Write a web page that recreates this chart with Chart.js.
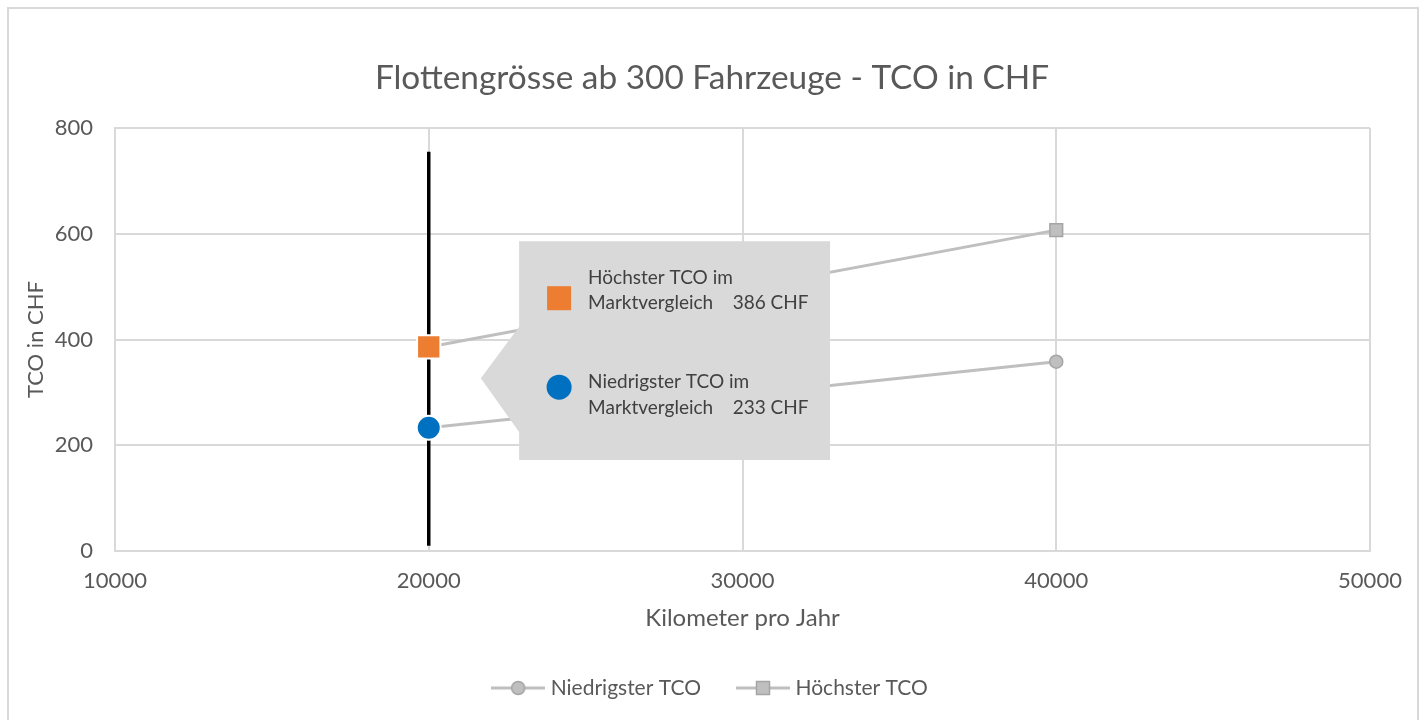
<!DOCTYPE html>
<html lang="de">
<head>
<meta charset="utf-8">
<title>Flottengrösse ab 300 Fahrzeuge - TCO in CHF</title>
<script src="https://cdn.jsdelivr.net/npm/chart.js@4/dist/chart.umd.min.js"></script>
<style>
  html, body { margin: 0; padding: 0; background: #fff; }
  #frame { position: absolute; left: 7px; top: 7px; width: 1408px; height: 760px; border: 2px solid #d9d9d9; }
  #wrap { position: absolute; left: 0; top: 0; width: 1424px; height: 720px; }
</style>
</head>
<body>
<div id="frame"></div>
<div id="wrap"><canvas id="tcoChart" width="1424" height="720"></canvas></div>
<script>
// Kilometer pro Jahr (x) und TCO in CHF (y)
const kmPerYear = [20000, 40000];
const tcoLow = [233, 358];
const tcoHigh = [386, 607];

// Markierung der Flotte bei 20000 km
const markerKm = 20000;
const markerLineRange = [10, 755];

const xTicks = [10000, 20000, 30000, 40000, 50000];
const yTicks = [0, 200, 400, 600, 800];

// Hinweisbox in Datenkoordinaten
const calloutBox = { xMin: 22880, xMax: 32790, yMin: 172, yMax: 586 };
const calloutTip = { x: 21660, y: 327, baseTop: 424, baseBottom: 225 };

const FONT = "Lato, 'Open Sans', sans-serif";
const TEXT = "#595959";
const GREY_LINE = "#bfbfbf";
const GREY_EDGE = "#a5a5a5";
const ORANGE = "#ed7d31";
const BLUE = "#0070c0";

function legendIcon(shape) {
  const c = document.createElement("canvas");
  c.width = 54;
  c.height = 18;
  const g = c.getContext("2d");
  g.strokeStyle = GREY_LINE;
  g.lineWidth = 3;
  g.beginPath();
  g.moveTo(0, 9);
  g.lineTo(54, 9);
  g.stroke();
  g.fillStyle = GREY_LINE;
  g.strokeStyle = GREY_EDGE;
  g.lineWidth = 1.5;
  g.beginPath();
  if (shape === "circle") g.arc(27, 9, 6.5, 0, Math.PI * 2);
  else g.rect(20.5, 2.5, 13, 13);
  g.fill();
  g.stroke();
  return c;
}

const toPoints = (xs, ys) => xs.map((x, i) => ({ x: x, y: ys[i] }));

const calloutPlugin = {
  id: "callout",
  afterDatasetsDraw(chart) {
    const { ctx, scales } = chart;
    const x = scales.x, y = scales.y;
    const left = x.getPixelForValue(calloutBox.xMin);
    const right = x.getPixelForValue(calloutBox.xMax);
    const top = y.getPixelForValue(calloutBox.yMax);
    const bottom = y.getPixelForValue(calloutBox.yMin);

    ctx.save();
    ctx.fillStyle = "#d9d9d9";
    ctx.beginPath();
    ctx.moveTo(left, top);
    ctx.lineTo(right, top);
    ctx.lineTo(right, bottom);
    ctx.lineTo(left, bottom);
    ctx.lineTo(left, y.getPixelForValue(calloutTip.baseBottom));
    ctx.lineTo(x.getPixelForValue(calloutTip.x), y.getPixelForValue(calloutTip.y));
    ctx.lineTo(left, y.getPixelForValue(calloutTip.baseTop));
    ctx.closePath();
    ctx.fill();

    // Orange Quadrat
    ctx.fillStyle = ORANGE;
    ctx.fillRect(left + 28, top + 45, 24, 24);
    // Blauer Kreis
    ctx.fillStyle = BLUE;
    ctx.beginPath();
    ctx.arc(left + 40, top + 146, 12.5, 0, Math.PI * 2);
    ctx.fill();

    ctx.fillStyle = "#404040";
    ctx.font = "19px " + FONT;
    ctx.textBaseline = "middle";
    ctx.textAlign = "left";
    const tx = left + 69;
    ctx.fillText("Höchster TCO im", tx, top + 37);
    ctx.fillText("Marktvergleich    " + tcoHigh[0] + " CHF", tx, top + 62);
    ctx.fillText("Niedrigster TCO im", tx, top + 141);
    ctx.fillText("Marktvergleich    " + tcoLow[0] + " CHF", tx, top + 167);
    ctx.restore();
  }
};

const ctx = document.getElementById("tcoChart").getContext("2d");
Chart.defaults.font.family = FONT;
Chart.defaults.color = TEXT;

new Chart(ctx, {
  type: "scatter",
  data: {
    datasets: [
      {
        label: "Höchster TCO im Marktvergleich",
        data: [{ x: markerKm, y: tcoHigh[0] }],
        pointStyle: "rect",
        pointRadius: 16.5,
        backgroundColor: ORANGE,
        borderColor: "#ffffff",
        borderWidth: 2,
        showLine: false,
      },
      {
        label: "Niedrigster TCO im Marktvergleich",
        data: [{ x: markerKm, y: tcoLow[0] }],
        pointStyle: "circle",
        pointRadius: 12,
        backgroundColor: BLUE,
        borderColor: "#ffffff",
        borderWidth: 2,
        showLine: false,
      },
      {
        label: "Niedrigster TCO",
        data: toPoints(kmPerYear, tcoLow),
        showLine: true,
        borderColor: GREY_LINE,
        borderWidth: 3,
        pointStyle: "circle",
        pointRadius: 6.5,
        pointBackgroundColor: GREY_LINE,
        pointBorderColor: GREY_EDGE,
        pointBorderWidth: 1.5,
      },
      {
        label: "Höchster TCO",
        data: toPoints(kmPerYear, tcoHigh),
        showLine: true,
        borderColor: GREY_LINE,
        borderWidth: 3,
        pointStyle: "rect",
        pointRadius: 9,
        pointBackgroundColor: GREY_LINE,
        pointBorderColor: GREY_EDGE,
        pointBorderWidth: 1.5,
      },
      {
        label: "Flotte",
        data: markerLineRange.map((v) => ({ x: markerKm, y: v })),
        showLine: true,
        borderColor: "#000000",
        borderWidth: 3.5,
        pointRadius: 0,
      },
    ],
  },
  options: {
    responsive: false,
    animation: false,
    layout: { padding: { left: 0, right: 0, top: 0, bottom: 11.5 } },
    plugins: {
      tooltip: { enabled: false },
      title: {
        display: true,
        text: "Flottengrösse ab 300 Fahrzeuge - TCO in CHF",
        color: TEXT,
        font: { size: 33.4, weight: "normal" },
        padding: { top: 58, bottom: 30 },
      },
      legend: {
        display: true,
        position: "bottom",
        labels: {
          color: TEXT,
          font: { size: 21 },
          usePointStyle: true,
          pointStyleWidth: 44,
          padding: 40,
          filter: (item) => item.datasetIndex === 2 || item.datasetIndex === 3,
          generateLabels(chart) {
            const items = Chart.defaults.plugins.legend.labels.generateLabels(chart);
            items.forEach((it) => {
              if (it.datasetIndex === 2) it.pointStyle = legendIcon("circle");
              if (it.datasetIndex === 3) it.pointStyle = legendIcon("rect");
            });
            return items;
          },
        },
      },
    },
    scales: {
      x: {
        type: "linear",
        min: xTicks[0],
        max: xTicks[xTicks.length - 1],
        afterFit: (scale) => { scale.height = 86.5; },
        afterBuildTicks: (scale) => { scale.ticks = xTicks.map((v) => ({ value: v })); },
        ticks: { callback: (v) => String(v), color: TEXT, font: { size: 22 }, padding: 17 },
        grid: { color: "#d9d9d9", lineWidth: 2, drawTicks: false },
        border: { color: "#d9d9d9", width: 2 },
        title: {
          display: true,
          text: "Kilometer pro Jahr",
          color: TEXT,
          font: { size: 24 },
          padding: { top: 0, bottom: 4.5 },
        },
      },
      y: {
        type: "linear",
        min: yTicks[0],
        max: yTicks[yTicks.length - 1],
        afterFit: (scale) => { scale.width = 115; },
        afterBuildTicks: (scale) => { scale.ticks = yTicks.map((v) => ({ value: v })); },
        ticks: { color: TEXT, font: { size: 22 }, padding: 22 },
        grid: { color: "#d9d9d9", lineWidth: 2, drawTicks: false },
        border: { color: "#d9d9d9", width: 2 },
        title: {
          display: true,
          text: "TCO in CHF",
          color: TEXT,
          font: { size: 22 },
          padding: { top: 23, bottom: 0 },
        },
      },
      // leerer Rand rechts, damit Titel und Legende über die ganze Breite zentriert sind
      yRight: {
        type: "linear",
        position: "right",
        display: true,
        grid: { display: false, drawTicks: false },
        border: { display: false },
        ticks: { display: false },
        afterFit: (scale) => { scale.width = 54; },
      },
    },
  },
  plugins: [calloutPlugin],
});
</script>
</body>
</html>
